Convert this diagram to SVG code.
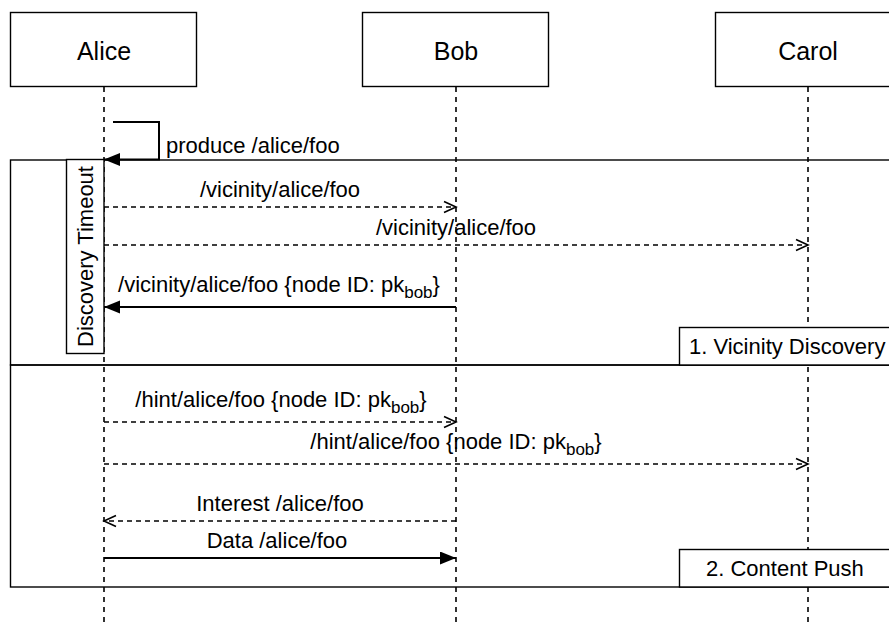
<svg xmlns="http://www.w3.org/2000/svg" width="889" height="623" viewBox="0 0 889 623">
  <style>
    text { font-family: "Liberation Sans", Arial, Helvetica, sans-serif; fill: #000; }
    .actor { font-size: 25px; text-anchor: middle; }
    .lbl { font-size: 22px; }
    .mid { text-anchor: middle; }
    .sub { font-size: 17px; }
    .box { fill: #fff; stroke: #000; stroke-width: 1.4; }
    .life { stroke: #000; stroke-width: 1.6; stroke-dasharray: 5 5; fill: none; }
    .frame { fill: none; stroke: #000; stroke-width: 1.4; }
    .sync { stroke: #000; stroke-width: 2; fill: none; marker-end: url(#filled); }
    .async { stroke: #000; stroke-width: 1.5; stroke-dasharray: 5 4; fill: none; marker-end: url(#open); }
  </style>
  <defs>
    <marker id="filled" markerUnits="userSpaceOnUse" markerWidth="18" markerHeight="14" refX="16" refY="6.5" orient="auto">
      <path d="M0,0 L16,6.5 L0,13 z" fill="#000"/>
    </marker>
    <marker id="open" markerUnits="userSpaceOnUse" markerWidth="16" markerHeight="16" refX="13" refY="7" orient="auto">
      <path d="M1,1.5 L13,7 L1,12.5" fill="none" stroke="#000" stroke-width="1.6"/>
    </marker>
  </defs>

  <rect width="889" height="623" fill="#fff"/>

  <!-- combined fragments -->
  <g id="fragments">
    <rect class="frame" x="10.5" y="160" width="890" height="205"/>
    <rect class="frame" x="10.5" y="365" width="890" height="222"/>
  </g>

  <!-- lifelines -->
  <g id="lifelines">
    <line class="life" x1="104" y1="87" x2="104" y2="623"/>
    <line class="life" x1="456" y1="87" x2="456" y2="623"/>
    <line class="life" x1="808" y1="87" x2="808" y2="623"/>
  </g>

  <g id="alice">
    <rect class="box" x="10.5" y="12.5" width="186" height="74"/>
    <text class="actor" x="104" y="60">Alice</text>
  </g>
  <g id="bob">
    <rect class="box" x="362.5" y="12.5" width="186" height="74"/>
    <text class="actor" x="456" y="60">Bob</text>
  </g>
  <g id="carol">
    <rect class="box" x="715.5" y="12.5" width="186" height="74"/>
    <text class="actor" x="808" y="60">Carol</text>
  </g>

  <g id="discovery-timeout">
    <rect class="box" x="66.5" y="159.5" width="37.5" height="194"/>
    <text class="lbl mid" transform="translate(92.5,256.5) rotate(-90)">Discovery Timeout</text>
  </g>

  <g id="frame-label-1">
    <rect class="box" x="679.5" y="327.5" width="220" height="37.5"/>
    <text class="lbl" x="689" y="354">1. Vicinity Discovery</text>
  </g>
  <g id="frame-label-2">
    <rect class="box" x="679.5" y="549.5" width="220" height="37.5"/>
    <text class="lbl" x="706" y="576">2. Content Push</text>
  </g>

  <!-- messages -->
  <g id="connectors">
    <path class="sync" d="M113,122 H159 V159.5 H104"/>
    <line class="async" x1="104" y1="207" x2="456" y2="207"/>
    <line class="async" x1="104" y1="245" x2="808" y2="245"/>
    <line class="sync" x1="456" y1="307" x2="104" y2="307"/>
    <line class="async" x1="104" y1="422" x2="456" y2="422"/>
    <line class="async" x1="104" y1="464" x2="808" y2="464"/>
    <line class="async" x1="456" y1="521" x2="104" y2="521"/>
    <line class="sync" x1="104" y1="558" x2="456" y2="558"/>
  </g>

  <g id="labels">
    <text class="lbl" x="166" y="153">produce /alice/foo</text>
    <text class="lbl mid" x="280" y="197">/vicinity/alice/foo</text>
    <text class="lbl mid" x="456" y="235">/vicinity/alice/foo</text>
    <text class="lbl mid" x="279" y="292">/vicinity/alice/foo {node ID: pk<tspan class="sub" dy="6">bob</tspan><tspan dy="-6">}</tspan></text>
    <text class="lbl mid" x="281" y="407">/hint/alice/foo {node ID: pk<tspan class="sub" dy="6">bob</tspan><tspan dy="-6">}</tspan></text>
    <text class="lbl mid" x="456" y="449">/hint/alice/foo {node ID: pk<tspan class="sub" dy="6">bob</tspan><tspan dy="-6">}</tspan></text>
    <text class="lbl mid" x="280" y="511">Interest /alice/foo</text>
    <text class="lbl mid" x="277" y="548">Data /alice/foo</text>
  </g>
</svg>
